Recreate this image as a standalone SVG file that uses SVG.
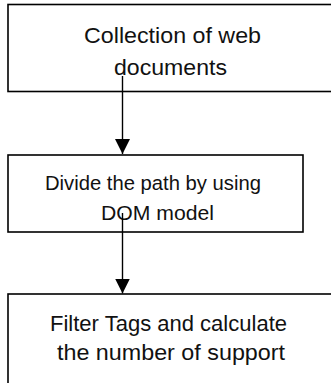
<svg xmlns="http://www.w3.org/2000/svg" width="331" height="383" viewBox="0 0 331 383">
<defs>
<style>
.box{fill:#fff;stroke:#000;stroke-width:1.6}
.t{font-family:"Liberation Sans",Arial,sans-serif;fill:#111;}
.conn{stroke:#000;stroke-width:1.4;fill:none}
</style>
<marker id="arr" viewBox="0 0 15 15" refX="15" refY="7.5" markerWidth="15" markerHeight="15" markerUnits="userSpaceOnUse" orient="auto">
<path d="M0,0 L15,7.5 L0,15 z" fill="#000"/>
</marker>
</defs>
<rect width="331" height="383" fill="#fff"/>
<g id="node1">
<rect class="box" x="8" y="4.5" width="340" height="87"/>
<text class="t" x="84" y="43" font-size="22.5" textLength="177" lengthAdjust="spacingAndGlyphs">Collection of web</text>
<text class="t" x="114" y="75" font-size="22.5" textLength="113" lengthAdjust="spacingAndGlyphs">documents</text>
</g>
<g id="node2">
<rect class="box" x="8" y="155" width="295" height="77"/>
<text class="t" x="45" y="189.5" font-size="20.5" textLength="216" lengthAdjust="spacingAndGlyphs">Divide the path by using</text>
<text class="t" x="101" y="220" font-size="20.5" textLength="113" lengthAdjust="spacingAndGlyphs">DOM model</text>
</g>
<g id="node3">
<rect class="box" x="8" y="294" width="340" height="110"/>
<text class="t" x="50" y="330.5" font-size="22.5" textLength="237" lengthAdjust="spacingAndGlyphs">Filter Tags and calculate</text>
<text class="t" x="57" y="360" font-size="22.5" textLength="228" lengthAdjust="spacingAndGlyphs">the number of support</text>
</g>
<g id="connectors">
<line class="conn" x1="122.5" y1="76" x2="122.5" y2="154" marker-end="url(#arr)"/>
<line class="conn" x1="122.5" y1="213" x2="122.5" y2="293.5" marker-end="url(#arr)"/>
</g>
</svg>
